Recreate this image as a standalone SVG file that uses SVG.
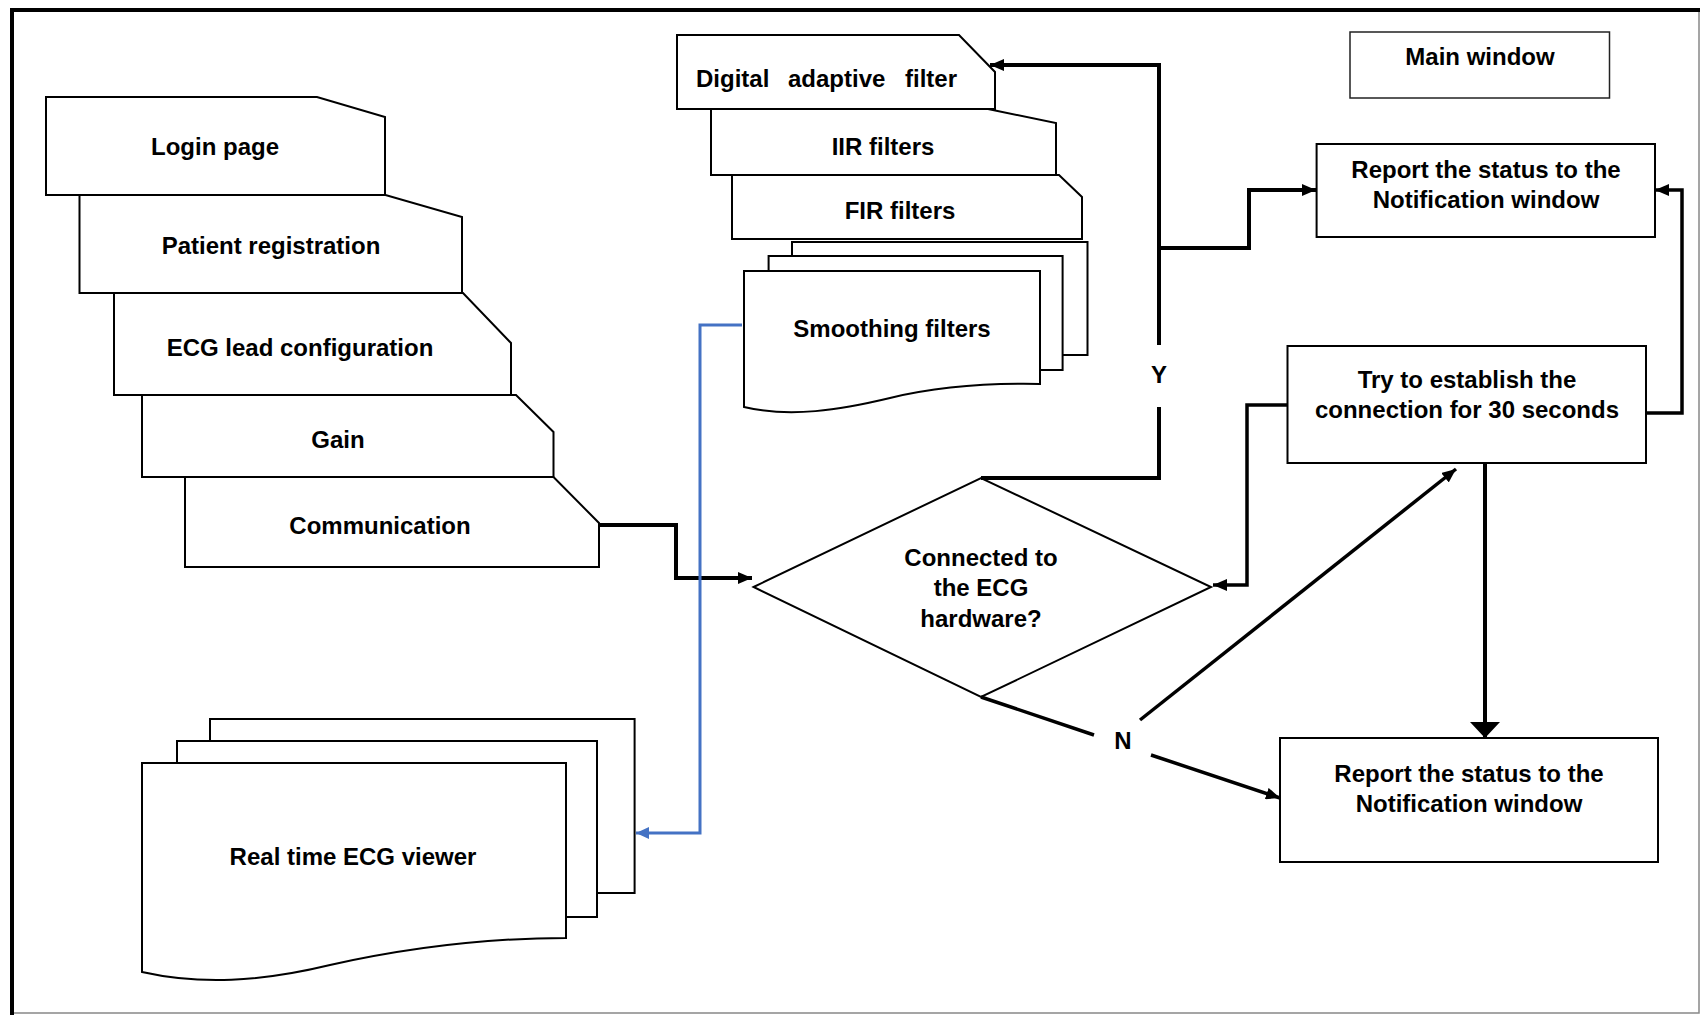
<svg xmlns="http://www.w3.org/2000/svg" width="1700" height="1015" viewBox="0 0 1700 1015">
  <style>
    .box { fill: #fff; stroke: #000; stroke-width: 2; stroke-linejoin: miter; }
    .lbl { font-family: "Liberation Sans", Arial, sans-serif; font-weight: bold; font-size: 24px; fill: #000; }
    .mid { text-anchor: middle; }
    .wire { fill: none; stroke: #000; stroke-width: 4; }
    .thin { fill: none; stroke: #000; stroke-width: 3.5; }
    .blue { fill: none; stroke: #4472C4; stroke-width: 3; }
  </style>
  <defs>
    <marker id="arrow" markerUnits="userSpaceOnUse" markerWidth="14" markerHeight="12" refX="14" refY="6" orient="auto">
      <path d="M0,0 L14,6 L0,12 z" fill="#000"/>
    </marker>
    <marker id="arrowBlue" markerUnits="userSpaceOnUse" markerWidth="13" markerHeight="12" refX="13" refY="6" orient="auto">
      <path d="M0,0 L13,6 L0,12 z" fill="#4472C4"/>
    </marker>
    <marker id="arrowBig" markerUnits="userSpaceOnUse" markerWidth="16" markerHeight="30" refX="16" refY="15" orient="auto">
      <path d="M0,0 L16,15 L0,30 z" fill="#000"/>
    </marker>
  </defs>

  <rect x="0" y="0" width="1700" height="1015" fill="#fff"/>

  <!-- outer frame -->
  <g id="frame">
    <path d="M10,10 H1700" stroke="#000" stroke-width="4"/>
    <path d="M12,8 V1015" stroke="#000" stroke-width="4"/>
    <path d="M1699,12 V1013 H14" fill="none" stroke="#888" stroke-width="1.5"/>
  </g>

  <!-- stacked setup pages -->
  <g id="login-page">
    <path class="box" d="M46,97 H317 L385,117 V195 H46 Z"/>
    <text class="lbl mid" x="215" y="155">Login page</text>
  </g>
  <g id="patient-registration">
    <path class="box" d="M79.5,195 H385.5 L462,217 V293 H79.5 Z"/>
    <text class="lbl mid" x="271" y="254">Patient registration</text>
  </g>
  <g id="ecg-lead-configuration">
    <path class="box" d="M114,293 H463 L511,343 V395 H114 Z"/>
    <text class="lbl mid" x="300" y="356">ECG lead configuration</text>
  </g>
  <g id="gain">
    <path class="box" d="M142,395 H516 L553.5,432 V477 H142 Z"/>
    <text class="lbl mid" x="338" y="448">Gain</text>
  </g>
  <g id="communication">
    <path class="box" d="M185,477 H553.5 L599,523 V567 H185 Z"/>
    <text class="lbl mid" x="380" y="534">Communication</text>
  </g>

  <!-- filter stack -->
  <g id="smoothing-filters">
    <rect class="box" x="792" y="242" width="295.5" height="113"/>
    <rect class="box" x="768.6" y="256" width="294" height="114"/>
    <path class="box" d="M744,271 H1040 V384 C990,383 940,386 890,398 C840,410 790,418 744,407 Z"/>
    <text class="lbl mid" x="892" y="337">Smoothing filters</text>
  </g>
  <g id="fir-filters">
    <path class="box" d="M732,175 H1059 L1082,197 V239 H732 Z"/>
    <text class="lbl mid" x="900" y="219">FIR filters</text>
  </g>
  <g id="iir-filters">
    <path class="box" d="M711,109 H988 L1056,123 V175 H711 Z"/>
    <text class="lbl mid" x="883" y="155">IIR filters</text>
  </g>
  <g id="digital-adaptive-filter">
    <path class="box" d="M677,35 H959 L995,72 V109 H677 Z"/>
    <text class="lbl" y="87"><tspan x="696">Digital</tspan><tspan x="788">adaptive</tspan><tspan x="905">filter</tspan></text>
  </g>

  <!-- viewer -->
  <g id="real-time-ecg-viewer">
    <rect class="box" x="210" y="719" width="424.6" height="174"/>
    <rect class="box" x="177" y="741" width="420" height="176"/>
    <path class="box" d="M142,763 H566 V938 C500,938 420,945 330,965 C260,982 200,985 142,972 Z"/>
    <text class="lbl mid" x="353" y="865">Real time ECG viewer</text>
  </g>

  <!-- decision and status boxes -->
  <g id="main-window">
    <rect x="1350" y="32" width="259.5" height="66" fill="#fff" stroke="#222" stroke-width="1.5"/>
    <text class="lbl mid" x="1480" y="65">Main window</text>
  </g>
  <g id="report-status-top">
    <rect class="box" x="1316.6" y="144" width="338.4" height="93"/>
    <text class="lbl mid" x="1486" y="178">Report the status to the</text>
    <text class="lbl mid" x="1486" y="208">Notification window</text>
  </g>
  <g id="try-connection">
    <rect class="box" x="1287.5" y="346" width="358.5" height="117"/>
    <text class="lbl mid" x="1467" y="388">Try to establish the</text>
    <text class="lbl mid" x="1467" y="418">connection for 30 seconds</text>
  </g>
  <g id="connected-decision">
    <path class="box" d="M753.6,587 L981,478 L1211,587 L981,697 Z"/>
    <text class="lbl mid" x="981" y="566">Connected to</text>
    <text class="lbl mid" x="981" y="596">the ECG</text>
    <text class="lbl mid" x="981" y="627">hardware?</text>
  </g>
  <g id="report-status-bottom">
    <rect class="box" x="1280" y="738" width="378" height="124"/>
    <text class="lbl mid" x="1469" y="782">Report the status to the</text>
    <text class="lbl mid" x="1469" y="812">Notification window</text>
  </g>

  <!-- connectors -->
  <g id="connectors">
    <path class="wire" d="M599,525 H676 V578 H752" marker-end="url(#arrow)"/>
    <path class="blue" d="M742,325 H700 V833 H636" marker-end="url(#arrowBlue)"/>
    <path class="wire" d="M981,478 H1159 V407"/>
    <path class="wire" d="M1159,345 V65 H990" marker-end="url(#arrow)"/>
    <path class="wire" d="M1159,248 H1249 V190 H1316" marker-end="url(#arrow)"/>
    <path class="thin" d="M1646,413 H1682 V190 H1655" marker-end="url(#arrow)"/>
    <path class="thin" d="M1287,405 H1247 V585 H1213" marker-end="url(#arrow)"/>
    <path class="wire" d="M1485,463 V738" stroke-width="5" marker-end="url(#arrowBig)"/>
    <path class="thin" d="M981,697 L1094,735"/>
    <path class="thin" d="M1151,755 L1280,798" marker-end="url(#arrow)"/>
    <path class="thin" d="M1140,720 L1456,469" marker-end="url(#arrow)"/>
    <text class="lbl mid" x="1159" y="383">Y</text>
    <text class="lbl mid" x="1123" y="749">N</text>
  </g>
</svg>
